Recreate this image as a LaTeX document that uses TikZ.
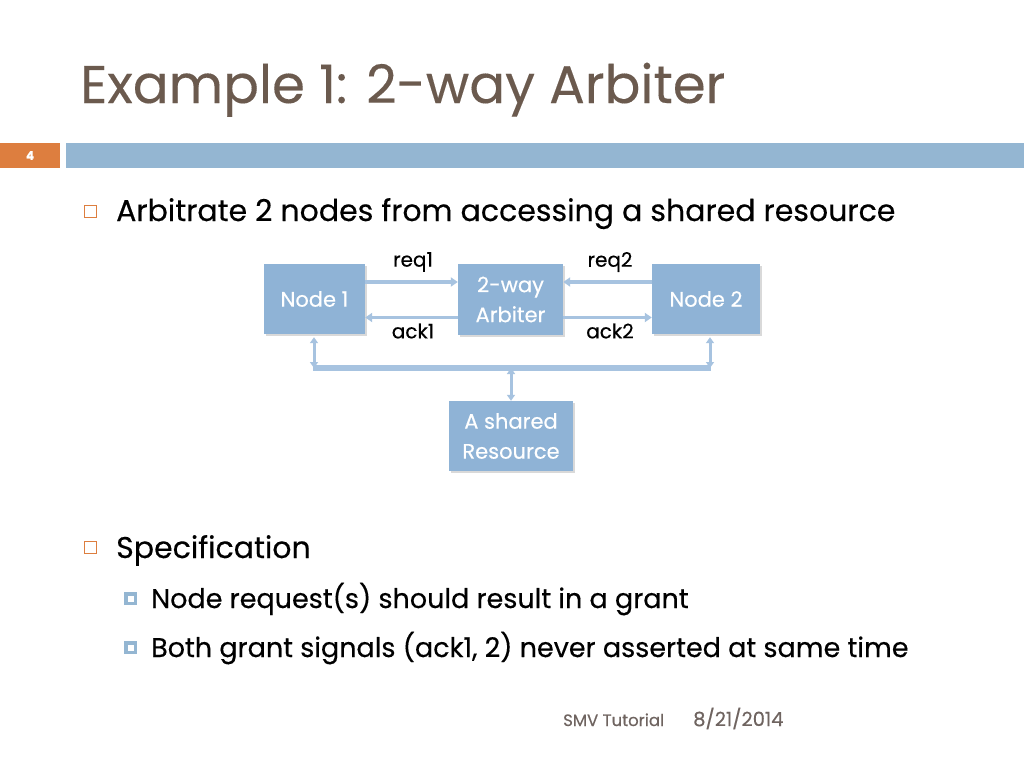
\documentclass[tikz,border=0pt]{standalone}
\usepackage{fontspec}
\setmainfont{Poppins}[FakeBold=0.35]
\newfontfamily\titlefont{Poppins}[FakeBold=0.2]
\usetikzlibrary{arrows.meta,calc,shadows}
\definecolor{boxblue}{HTML}{8FB3D6}
\definecolor{arrblue}{HTML}{A7C3E0}
\definecolor{barblue}{HTML}{94B6D2}
\definecolor{orng}{HTML}{DD7E3F}
\definecolor{titlec}{HTML}{6B5A4E}
\definecolor{footc}{HTML}{6F6460}
\tikzset{
  blk/.style={draw=none,fill=boxblue,text=white,font=\fontsize{21}{30}\selectfont,align=center,inner sep=0pt,
    drop shadow={shadow xshift=1.5pt,shadow yshift=-2pt,fill=black,opacity=0.15}},
  sig/.style={draw=arrblue,line width=3.5pt,-{Triangle[length=7pt,width=9pt]}},
  dsig/.style={draw=arrblue,line width=3pt,{Triangle[length=6pt,width=8pt]}-{Triangle[length=6pt,width=8pt]}},
  bus/.style={draw=arrblue,line width=6pt},
  lbl/.style={font=\fontsize{20}{24}\selectfont,text=black,inner sep=0pt},
  bodytext/.style={anchor=base west,inner sep=0pt,text=black},
}
\begin{document}
\begin{tikzpicture}[x=1pt,y=-1pt]
\useasboundingbox[fill=white] (0,0) rectangle (1024,768);
% title
\node[anchor=base west,inner sep=0pt,text=titlec,font=\titlefont\fontsize{53}{60}\selectfont] (title) at (80,103) {Example 1: 2-way Arbiter};
% header bars
\fill[orng] (0,143) rectangle (60,168);
\node[text=white,font=\bfseries\fontsize{12}{13}\selectfont,inner sep=0pt] (pg) at (30,155.5) {4};
\fill[barblue] (66,143) rectangle (1024,168);
% bullets
\draw[orng,line width=1pt] (84.5,205.5) rectangle (96.5,217.5);
\node[bodytext,font=\fontsize{30}{36}\selectfont] (b1) at (116,221) {Arbitrate 2 nodes from accessing a shared resource};
\draw[orng,line width=1pt] (84.5,541.5) rectangle (96.5,553.5);
\node[bodytext,font=\fontsize{30}{36}\selectfont] (b2) at (116,558) {Specification};
\fill[barblue] (124,592) rectangle (137,605);
\fill[white] (127.5,595.5) rectangle (133.5,601.5);
\node[bodytext,font=\fontsize{27}{32}\selectfont] (b3) at (151,608) {Node request(s) should result in a grant};
\fill[barblue] (124,641) rectangle (137,654);
\fill[white] (127.5,644.5) rectangle (133.5,650.5);
\node[bodytext,font=\fontsize{27}{32}\selectfont] (b4) at (151,657) {Both grant signals (ack1, 2) never asserted at same time};
% footer
\node[anchor=base west,inner sep=0pt,text=footc,font=\fontsize{16.5}{20}\selectfont] (f1) at (563,726) {SMV Tutorial};
\node[anchor=base west,inner sep=0pt,text=footc,font=\fontsize{19.5}{22}\selectfont] (f2) at (693,726) {8/21/2014};
% diagram
\node[blk,minimum width=101pt,minimum height=70pt] (n1) at (314.5,299) {Node 1};
\node[blk,minimum width=105pt,minimum height=71pt] (arb) at (510.5,299.5) {2-way\\Arbiter};
\node[blk,minimum width=108pt,minimum height=70pt] (n2) at (706,299) {Node 2};
\node[blk,minimum width=124pt,minimum height=70pt] (res) at (511,436) {A shared\\Resource};
\draw[sig] ([yshift=17pt]n1.east) -- ([yshift=17pt]n1.east -| arb.west);
\draw[sig] ([yshift=-18pt]arb.west) -- ([yshift=-18pt]arb.west -| n1.east);
\draw[sig] ([yshift=17pt]n2.west) -- ([yshift=17pt]n2.west -| arb.east);
\draw[sig] ([yshift=-18pt]arb.east) -- ([yshift=-18pt]arb.east -| n2.west);
\node[lbl] (lr1) at (413,262) {req1};
\node[lbl] (lr2) at (610,262) {req2};
\node[lbl] (la1) at (413,331) {ack1};
\node[lbl] (la2) at (610,331) {ack2};
\coordinate (bl) at (314,368);
\coordinate (br) at (710,368);
\coordinate (bm) at (511,368);
\draw[bus] ([xshift=-1pt]bl) -- ([xshift=1pt]br);
\draw[dsig] ([yshift=-3pt]n1.south -| bl) -- (bl);
\draw[dsig] ([yshift=-3pt]n2.south -| br) -- (br);
\draw[dsig] (bm) -- (res.north);
\end{tikzpicture}
\end{document}
